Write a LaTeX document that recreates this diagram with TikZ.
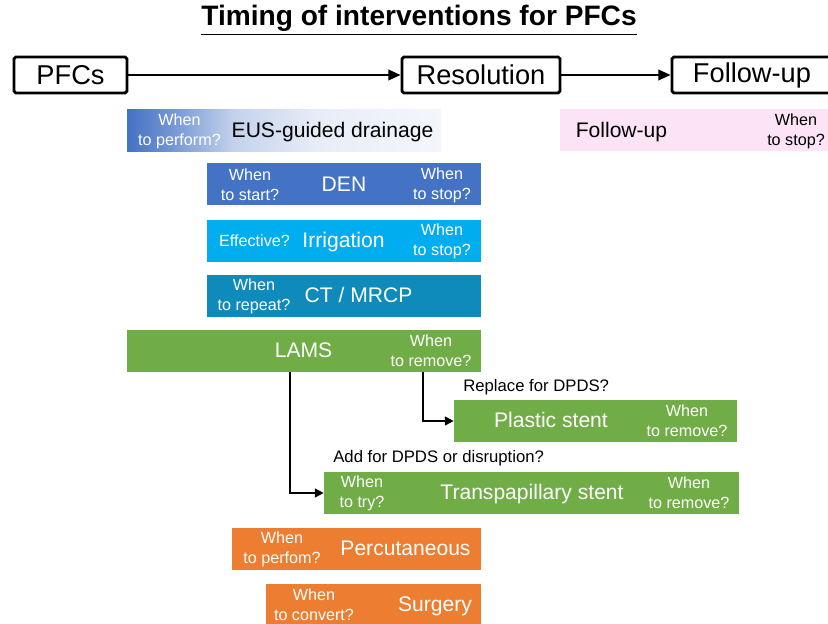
\documentclass[tikz,border=0pt]{standalone}
\usepackage{fontspec}
\setmainfont{Liberation Sans}
\usepackage{tikz}
\usetikzlibrary{positioning}
\usetikzlibrary{arrows.meta}

\definecolor{denblue}{HTML}{4472C4}
\definecolor{irrblue}{HTML}{00ADEE}
\definecolor{ctblue}{HTML}{0E8BBA}
\definecolor{lamsgreen}{HTML}{70AD47}
\definecolor{percorange}{HTML}{ED7D31}
\definecolor{fupink}{HTML}{FCE4F6}
\definecolor{euslight}{HTML}{F4F6FB}
\pgfdeclarehorizontalshading{eusfade}{100bp}{color(0bp)=(denblue); color(25bp)=(denblue); color(32bp)=(denblue!75!white); color(42bp)=(denblue!32!white); color(55bp)=(denblue!13!white); color(75bp)=(euslight); color(100bp)=(euslight)}

\tikzset{
  stage/.style={draw, line width=1.6pt, rounded corners=1pt, minimum height=0.72cm, inner sep=0pt, font=\fontsize{15.5}{18}\selectfont},
  bar/.style={minimum height=0.84cm, inner sep=0pt},
  mainlbl/.style={inner sep=0pt, text=white, text height=0.72em, text depth=0pt, font=\fontsize{12}{14}\selectfont},
  sidelbl/.style={inner sep=0pt, text=white, align=center, font=\fontsize{9.2}{11.2}\selectfont},
  note/.style={inner sep=0pt, anchor=west, font=\fontsize{9.5}{11}\selectfont},
  flow/.style={line width=1.3pt, -{Triangle[length=7pt, width=6pt]}},
  link/.style={line width=1.1pt, -{Triangle[length=5pt, width=5pt]}}
}

\begin{document}
\begin{tikzpicture}[x=0.02cm, y=-0.02cm]
				\useasboundingbox (0,0) rectangle (828,624);
				\clip (0,0) rectangle (828,624);
				
				\node[font=\fontsize{16}{19}\selectfont\bfseries] (title) at (419,20) {\underline{Timing of interventions for PFCs}};
				
				% stages along the top
				\node[stage, minimum width=2.26cm] (pfcs) at (70.5,75) {PFCs};
				\node[stage, minimum width=3.16cm] (res) at (481,75) {Resolution};
				\node[stage, minimum width=3.2cm] (fu) at (752,75) {Follow-up};
				\draw[flow] (pfcs) -- (res);
				\draw[flow] (res) -- (fu);
				
				% interventions
				\node[bar, shading=eusfade, minimum width=6.28cm] (eus) at (284,130.5) {};
				\node[bar, fill=fupink, minimum width=6.2cm] (fubar) at (715,130.5) {};
				\node[bar, fill=denblue, minimum width=5.48cm] (den) at (344,184.5) {};
				\node[bar, fill=irrblue, minimum width=5.48cm] (irr) at (344,241) {};
				\node[bar, fill=ctblue, minimum width=5.48cm] (ct) at (344,296) {};
				\node[bar, fill=lamsgreen, minimum width=7.08cm] (lams) at (304,351) {};
				\node[bar, fill=lamsgreen, minimum width=5.66cm] (plastic) at (595.5,421) {};
				\node[bar, fill=lamsgreen, minimum width=8.3cm] (tps) at (531.5,493) {};
				\node[bar, fill=percorange, minimum width=4.98cm] (perc) at (356.5,549) {};
				\node[bar, fill=percorange, minimum width=4.3cm] (surg) at (373.5,605) {};
				
				\node[sidelbl] (eusL) at (179.5,131) {When\\to perform?};
				\node[mainlbl, text=black] (eusT) at (332.5,131) {EUS-guided drainage};
				\node[mainlbl, text=black] (fuT) at (621.5,131) {Follow-up};
				\node[sidelbl, text=black] (fuR) at (796,131) {When\\to stop?};
				
				\node[sidelbl] (denL) at (250,185) {When\\to start?};
				\node[mainlbl] (denT) at (344,185) {DEN};
				\node[sidelbl] (denR) at (442,185) {When\\to stop?};
				
				\node[sidelbl] (irrL) at (254.5,241) {Effective?};
				\node[mainlbl] (irrT) at (343.5,241) {Irrigation};
				\node[sidelbl] (irrR) at (442,241) {When\\to stop?};
				
				\node[sidelbl] (ctL) at (254,296) {When\\to repeat?};
				\node[mainlbl] (ctT) at (358.5,296) {CT / MRCP};
				
				\node[mainlbl] (lamsT) at (303.5,351) {LAMS};
				\node[sidelbl] (lamsR) at (431,351) {When\\to remove?};
				
				\node[mainlbl] (plasticT) at (551,421) {Plastic stent};
				\node[sidelbl] (plasticR) at (687,421) {When\\to remove?};
				
				\node[sidelbl] (tpsL) at (362,493) {When\\to try?};
				\node[mainlbl] (tpsT) at (532,493) {Transpapillary stent};
				\node[sidelbl] (tpsR) at (689,493) {When\\to remove?};
				
				\node[sidelbl] (percL) at (282,549) {When\\to perfom?};
				\node[mainlbl] (percT) at (405.5,549) {Percutaneous};
				
				\node[sidelbl] (surgL) at (314,605) {When\\to convert?};
				\node[mainlbl] (surgT) at (435,605) {Surgery};
				
				% stent changes after LAMS
				\coordinate (lamsR1) at (423,0);
				\coordinate (lamsL1) at (290,0);
				\node[note] (replace) at (463,387) {Replace for DPDS?};
				\node[note] (addfor) at (333,458) {Add for DPDS or disruption?};
				\draw[link] (lams.south -| lamsR1) |- (plastic.west);
				\draw[link] (lams.south -| lamsL1) |- (tps.west);
			\end{tikzpicture}
\end{document}
